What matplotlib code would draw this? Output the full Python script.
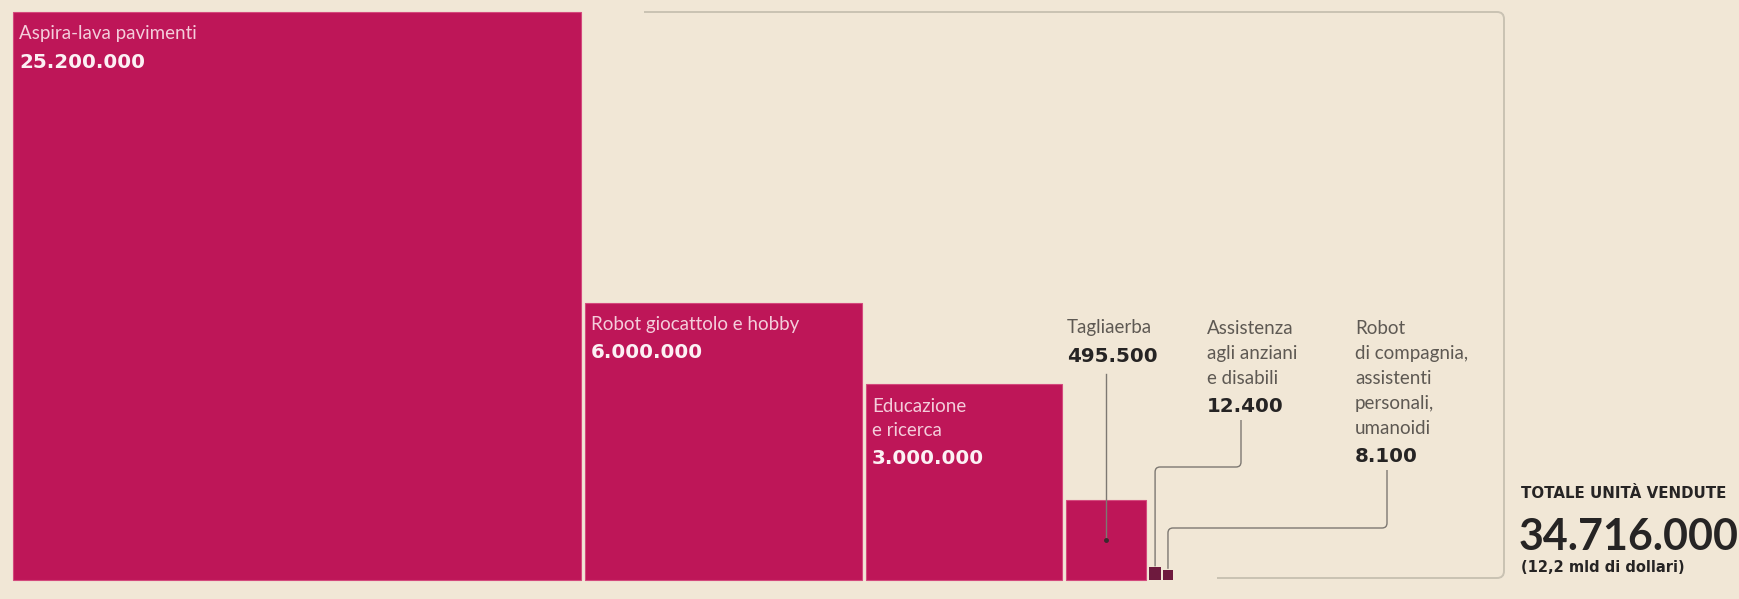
import numpy as np
import matplotlib
matplotlib.use("Agg")
import matplotlib.pyplot as plt
from matplotlib.patches import Rectangle, PathPatch
from matplotlib.path import Path

# ---------------- data ----------------
categories = [
    "Aspira-lava pavimenti",
    "Robot giocattolo e hobby",
    "Educazione\ne ricerca",
    "Tagliaerba",
    "Assistenza\nagli anziani\ne disabili",
    "Robot\ndi compagnia,\nassistenti\npersonali,\numanoidi",
]
values = [25200000, 6000000, 3000000, 495500, 12400, 8100]
value_labels = ["25.200.000", "6.000.000", "3.000.000", "495.500", "12.400", "8.100"]
total_title = "TOTALE UNITÀ VENDUTE"
total_value = 34716000
total_label = "34.716.000"
total_sub = "(12,2 mld di dollari)"

# ---------------- style ----------------
BG = "#f1e7d6"
MAGENTA = "#be1658"
EDGE = "#d44a7d"
DOT = "#6e1a3e"
LIGHT_TXT = "#f4cddb"
LIGHT_NUM = "#fcf0f4"
DARK_LBL = "#5e5953"
DARK_NUM = "#262424"
BRACKET = "#c9c2b3"
LEADER = "#7d7872"

W, H = 1740, 599
fig = plt.figure(figsize=(W / 100, H / 100), dpi=100, facecolor=BG)
ax = fig.add_axes([0, 0, 1, 1])
ax.set_facecolor(BG)
ax.set_xlim(0, W)
ax.set_ylim(H, 0)
ax.axis("off")

# squares: area proportional to value
base_y = 580
x_start = 13
big_side = 568
sides = [big_side * np.sqrt(v / values[0]) for v in values]
gaps = [4, 4, 4, 3, 1.5]
xs = [x_start]
for i in range(1, len(values)):
    xs.append(xs[-1] + sides[i - 1] + gaps[i - 1])

for i, (x, s) in enumerate(zip(xs, sides)):
    if i < 4:
        ax.add_patch(Rectangle((x, base_y - s), s, s, facecolor=MAGENTA,
                               edgecolor=EDGE, lw=0.8, zorder=2))
    else:
        ax.add_patch(Rectangle((x, base_y - s), s, s, facecolor=DOT,
                               edgecolor="none", zorder=2))

LBL_FONT = "Lato"
NUM_FONT = "DejaVu Sans"
LBL_SIZE = 13.5
NUM_SIZE = 14.3

# labels inside the three largest squares
for i in range(3):
    top = base_y - sides[i]
    lines = categories[i].split("\n")
    y = top + 22
    for k, ln in enumerate(lines):
        ax.text(xs[i] + 6, y + k * 24, ln, family=LBL_FONT,
                fontsize=LBL_SIZE, color=LIGHT_TXT, va="center", ha="left", zorder=3)
    ny = y + (len(lines) - 1) * 24 + 28
    ax.text(xs[i] + 6, ny, value_labels[i], family=NUM_FONT, fontweight="bold",
            fontsize=NUM_SIZE, color=LIGHT_NUM, va="center", ha="left", zorder=3)

# outside labels for the small categories
label_x = {3: 1067, 4: 1207, 5: 1355}
num_pos = {}
for i in (3, 4, 5):
    lines = categories[i].split("\n")
    y0 = 328
    for k, ln in enumerate(lines):
        ax.text(label_x[i], y0 + k * 25, ln, family=LBL_FONT,
                fontsize=LBL_SIZE, color=DARK_LBL, va="center", ha="left", zorder=3)
    ny = y0 + (len(lines) - 1) * 25 + 28
    ax.text(label_x[i], ny, value_labels[i], family=NUM_FONT, fontweight="bold",
            fontsize=NUM_SIZE, color=DARK_NUM, va="center", ha="left", zorder=3)
    num_pos[i] = (label_x[i], ny)


def rounded_path(points, r):
    pts = [np.array(p, float) for p in points]
    verts = [pts[0]]
    codes = [Path.MOVETO]
    for j in range(1, len(pts) - 1):
        p0, p1, p2 = pts[j - 1], pts[j], pts[j + 1]
        d1 = (p1 - p0) / np.linalg.norm(p1 - p0)
        d2 = (p2 - p1) / np.linalg.norm(p2 - p1)
        a = p1 - d1 * r
        b = p1 + d2 * r
        verts += [a, p1, b]
        codes += [Path.LINETO, Path.CURVE3, Path.CURVE3]
    verts.append(pts[-1])
    codes.append(Path.LINETO)
    return Path(verts, codes)


# leader for Tagliaerba: to centre of its square
cx3 = xs[3] + sides[3] / 2
cy3 = base_y - sides[3] / 2
ax.plot([cx3, cx3], [num_pos[3][1] + 18, cy3], color=LEADER, lw=1.0, zorder=4)
ax.plot([cx3], [cy3], marker="o", ms=2.5, color="#3a2a2e", zorder=5)

# leader for 12.400 -> first dot
cx4 = xs[4] + sides[4] / 2
sx4 = label_x[4] + 34
path4 = rounded_path([(sx4, num_pos[4][1] + 14), (sx4, 467), (cx4, 467),
                      (cx4, base_y - sides[4] - 1)], 5)
ax.add_patch(PathPatch(path4, facecolor="none", edgecolor=LEADER, lw=1.0, zorder=4))

# leader for 8.100 -> second dot
cx5 = xs[5] + sides[5] / 2
sx5 = label_x[5] + 32
path5 = rounded_path([(sx5, num_pos[5][1] + 14), (sx5, 528), (cx5, 528),
                      (cx5, base_y - sides[5] - 1)], 5)
ax.add_patch(PathPatch(path5, facecolor="none", edgecolor=LEADER, lw=1.0, zorder=4))

# bracket
bracket = rounded_path([(644, 12), (1504, 12), (1504, 578), (1217, 578)], 7)
ax.add_patch(PathPatch(bracket, facecolor="none", edgecolor=BRACKET, lw=1.4, zorder=1))

# total
ax.text(1521, 493, total_title, family=NUM_FONT, fontweight="heavy", fontsize=10.8,
        color=DARK_NUM, va="center", ha="left")
ax.text(1519, 537, total_label, family="Lato", fontweight="bold", fontsize=31,
        color=DARK_NUM, va="center", ha="left")
ax.text(1521, 567, total_sub, family=NUM_FONT, fontweight="bold", fontsize=10.5,
        color=DARK_NUM, va="center", ha="left")

fig.savefig("out.png", dpi=100, facecolor=BG)
